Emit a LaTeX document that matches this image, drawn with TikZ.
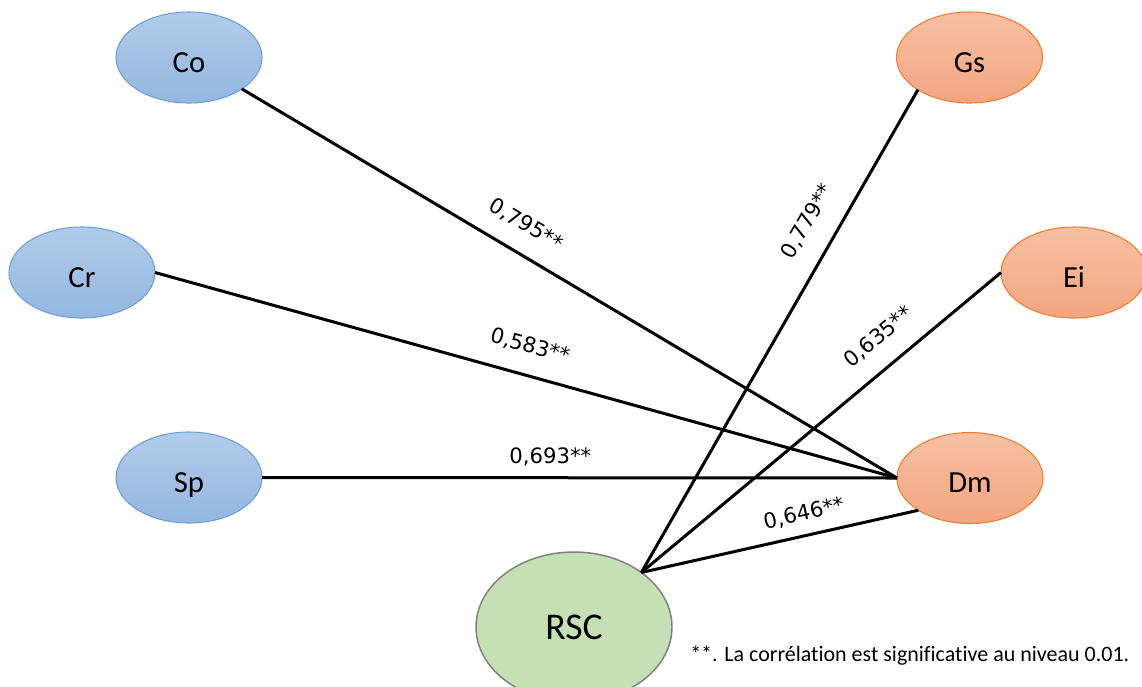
\documentclass[tikz,border=0pt]{standalone}
\usepackage{fontspec}
\setmainfont[Ligatures=NoCommon]{Carlito}
\newfontfamily\coeffont{DejaVu Sans}
\usetikzlibrary{shapes.geometric}
\definecolor{bluetop}{RGB}{178,203,233}
\definecolor{bluebot}{RGB}{148,183,224}
\definecolor{blueline}{RGB}{108,158,214}
\definecolor{orangetop}{RGB}{246,192,164}
\definecolor{orangebot}{RGB}{243,165,128}
\definecolor{orangeline}{RGB}{237,125,49}
\definecolor{greenfill}{RGB}{197,224,180}
\definecolor{greenline}{RGB}{127,127,127}
\begin{document}
\begin{tikzpicture}[x=0.75pt,y=-0.75pt,
  var/.style={ellipse, inner sep=0pt, outer sep=0pt, minimum width=109.5pt, minimum height=68.25pt,
    line width=0.8pt, font=\fontsize{23}{27}\selectfont, text height=22pt, text depth=0pt},
  indep/.style={var, draw=blueline, top color=bluetop, bottom color=bluebot},
  dep/.style={var, draw=orangeline, top color=orangetop, bottom color=orangebot},
  outcome/.style={var, draw=greenline, fill=greenfill, minimum width=147pt, minimum height=112.5pt,
    font=\fontsize{28.3}{34}\selectfont, text height=18.2pt, line width=1.1pt},
  link/.style={line width=2.25pt, black},
  coef/.style={sloped, anchor=base, inner sep=0pt, font=\coeffont\fontsize{15.9}{19}\selectfont},
  note/.style={anchor=base west, inner sep=0pt, font=\fontsize{16.5}{20}\selectfont}
]
\useasboundingbox (0,0) rectangle (1142,686);
\node[indep] (Co) at (189,57.5) {Co};
\node[indep] (Cr) at (82,272.5) {Cr};
\node[indep] (Sp) at (189,477.5) {Sp};
\node[dep] (Gs) at (969.5,57.5) {Gs};
\node[dep] (Ei) at (1074,272.5) {Ei};
\node[dep] (Dm) at (970,478) {Dm};
\node[outcome] (RSC) at (574,627) {RSC};

\draw[link] (Co) -- node[coef, pos=0.412, yshift=16.2pt] {0,795**} (Dm.west);
\draw[link] (Cr.east) -- node[coef, pos=0.4955, yshift=16.9pt] {0,583**} (Dm.west);
\draw[link] (Sp.east) -- node[coef, pos=0.454, yshift=10.5pt] {0,693**} (Dm.west);
\draw[link] (RSC.39) -- node[coef, pos=0.696, yshift=17.8pt] {0,779**} (Gs.212);
\draw[link] (RSC.39) -- node[coef, pos=0.711, yshift=16.7pt] {0,635**} (Ei.west);
\draw[link] (RSC.39) -- node[coef, pos=0.604, yshift=11.3pt] {0,646**} (Dm.212);

\node[note] (fn) at (690,661.7) {**. La corrélation est significative au niveau 0.01.};
\end{tikzpicture}
\end{document}
